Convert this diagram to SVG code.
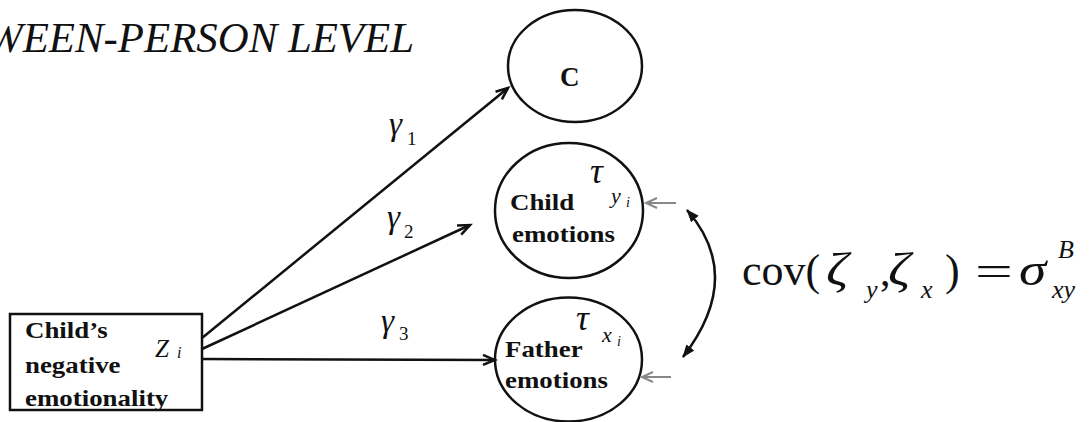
<svg xmlns="http://www.w3.org/2000/svg" width="1092" height="422" viewBox="0 0 1092 422">
<defs>
<marker id="open" markerUnits="userSpaceOnUse" markerWidth="16" markerHeight="16" refX="13" refY="6" orient="auto">
<path d="M1,1 L13,6 L1,11" fill="none" stroke="#111" stroke-width="2.5"/>
</marker>
<marker id="opengray" markerUnits="userSpaceOnUse" markerWidth="16" markerHeight="16" refX="12" refY="6" orient="auto">
<path d="M1,1 L12,6 L1,11" fill="none" stroke="#888" stroke-width="2"/>
</marker>
<marker id="solid" markerUnits="userSpaceOnUse" markerWidth="16" markerHeight="16" refX="12" refY="6" orient="auto-start-reverse">
<path d="M0,1 L13,6 L0,11 Z" fill="#111"/>
</marker>
</defs>
<rect width="1092" height="422" fill="#fff"/>
<text font-family="Liberation Serif" font-style="italic" fill="#111" font-size="42" transform="translate(-13,52) scale(1.02,1)">WEEN-PERSON LEVEL</text>

<g id="node-z">
<rect x="10" y="314" width="192" height="96" fill="none" stroke="#111" stroke-width="2.5"/>
<text font-family="Liberation Serif" font-weight="bold" fill="#111" font-size="24" transform="translate(25,338) scale(1.12,1)">Child’s</text>
<text font-family="Liberation Serif" font-weight="bold" fill="#111" font-size="24" transform="translate(25,373) scale(1.12,1)">negative</text>
<text font-family="Liberation Serif" font-weight="bold" fill="#111" font-size="24" transform="translate(25,406) scale(1.12,1)">emotionality</text>
<text font-family="Liberation Serif" font-style="italic" fill="#111" x="155" y="357" font-size="25">Z</text>
<text font-family="Liberation Serif" font-style="italic" fill="#111" x="177" y="358" font-size="16">i</text>
</g>

<g id="node-c">
<ellipse cx="575" cy="66" rx="67" ry="56" fill="none" stroke="#111" stroke-width="2.5"/>
<text font-family="Liberation Serif" font-weight="bold" fill="#111" x="560" y="86" font-size="27">C</text>
</g>

<g id="node-child">
<ellipse cx="569" cy="210.5" rx="74" ry="67.5" fill="none" stroke="#111" stroke-width="2.5"/>
<text font-family="Liberation Serif" font-weight="bold" fill="#111" font-size="24" transform="translate(510,210) scale(1.12,1)">Child</text>
<text font-family="Liberation Serif" font-weight="bold" fill="#111" font-size="24" transform="translate(512,242) scale(1.12,1)">emotions</text>
<text font-family="Liberation Serif" font-style="italic" fill="#111" x="590" y="183" font-size="36">τ</text>
<text font-family="Liberation Serif" font-style="italic" fill="#111" x="611" y="203" font-size="22">y</text>
<text font-family="Liberation Serif" font-style="italic" fill="#111" x="626" y="207" font-size="14">i</text>
</g>

<g id="node-father">
<ellipse cx="568.5" cy="359.5" rx="73.5" ry="62" fill="none" stroke="#111" stroke-width="2.5"/>
<text font-family="Liberation Serif" font-weight="bold" fill="#111" font-size="24" transform="translate(505,357) scale(1.12,1)">Father</text>
<text font-family="Liberation Serif" font-weight="bold" fill="#111" font-size="24" transform="translate(505,388) scale(1.12,1)">emotions</text>
<text font-family="Liberation Serif" font-style="italic" fill="#111" x="576" y="330" font-size="36">τ</text>
<text font-family="Liberation Serif" font-style="italic" fill="#111" x="602" y="342" font-size="22">x</text>
<text font-family="Liberation Serif" font-style="italic" fill="#111" x="617" y="346" font-size="14">i</text>
</g>

<g id="connectors" fill="none" stroke="#111" stroke-width="2.5">
<line x1="202" y1="338" x2="508" y2="88" marker-end="url(#open)"/>
<line x1="202" y1="349" x2="470" y2="225" marker-end="url(#open)"/>
<line x1="202" y1="359" x2="495" y2="360" marker-end="url(#open)"/>
<line x1="676" y1="203" x2="646" y2="203" stroke="#888" stroke-width="2" marker-end="url(#opengray)"/>
<line x1="671" y1="377" x2="642" y2="377" stroke="#888" stroke-width="2" marker-end="url(#opengray)"/>
<path d="M687,210 Q745,276.5 683,357" marker-start="url(#solid)" marker-end="url(#solid)"/>
</g>

<g id="labels">
<text font-family="Liberation Serif" font-style="italic" fill="#111" x="389" y="135" font-size="33">γ</text>
<text font-family="Liberation Serif" fill="#111" x="407" y="145" font-size="19">1</text>
<text font-family="Liberation Serif" font-style="italic" fill="#111" x="387" y="228" font-size="33">γ</text>
<text font-family="Liberation Serif" fill="#111" x="404" y="238" font-size="19">2</text>
<text font-family="Liberation Serif" font-style="italic" fill="#111" x="381" y="332" font-size="33">γ</text>
<text font-family="Liberation Serif" fill="#111" x="399" y="340" font-size="19">3</text>
</g>

<g id="formula">
<text font-family="Liberation Serif" fill="#111" x="742" y="285" font-size="44">cov(</text>
<text font-family="Liberation Serif" font-style="italic" fill="#111" font-size="46" transform="translate(826,285) scale(1.2,1)">ζ</text>
<text font-family="Liberation Serif" font-style="italic" fill="#111" x="866" y="298" font-size="26">y</text>
<text font-family="Liberation Serif" fill="#111" x="880" y="285" font-size="42">,</text>
<text font-family="Liberation Serif" font-style="italic" fill="#111" font-size="46" transform="translate(888,285) scale(1.2,1)">ζ</text>
<text font-family="Liberation Serif" font-style="italic" fill="#111" x="921" y="298" font-size="26">x</text>
<text font-family="Liberation Serif" fill="#111" x="945" y="285" font-size="44">)</text>
<text font-family="Liberation Serif" fill="#111" font-size="42" transform="translate(975,285) scale(1.6,1)">=</text>
<text font-family="Liberation Serif" font-style="italic" fill="#111" font-size="46" transform="translate(1019,285) scale(1.2,1)">σ</text>
<text font-family="Liberation Serif" font-style="italic" fill="#111" x="1058" y="258" font-size="26">B</text>
<text font-family="Liberation Serif" font-style="italic" fill="#111" x="1052" y="298" font-size="26">xy</text>
</g>
</svg>
